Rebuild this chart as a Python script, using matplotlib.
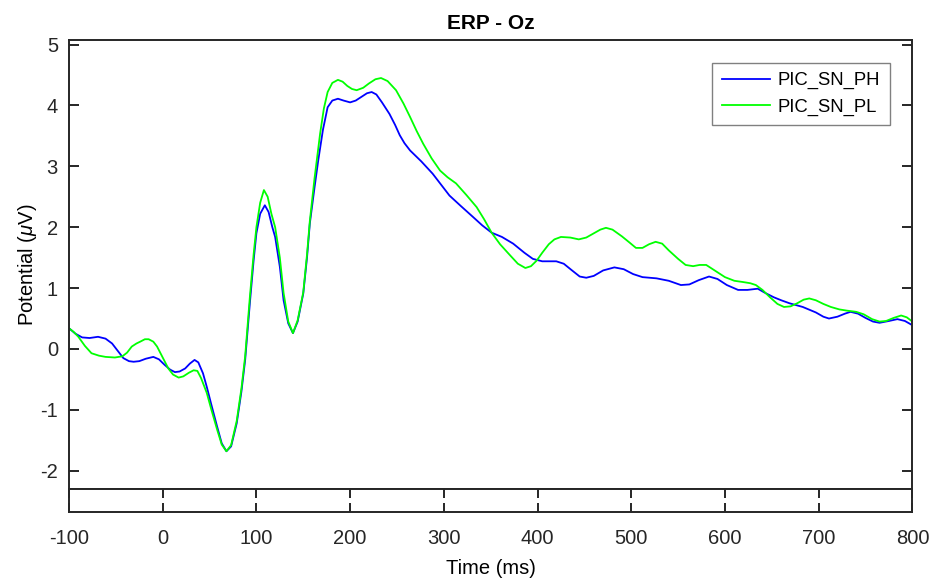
import matplotlib
matplotlib.use('Agg')
import matplotlib.pyplot as plt
import numpy as np

plt.rcParams['font.family'] = ['Liberation Sans', 'DejaVu Sans']
plt.rcParams['mathtext.fontset'] = 'custom'
plt.rcParams['mathtext.rm'] = 'Liberation Sans'
plt.rcParams['mathtext.it'] = 'Liberation Sans:italic'
plt.rcParams['axes.unicode_minus'] = False

# PIC_SN_PH (blue)
t_ph = [-100, -93, -86, -78, -69, -61, -54, -48, -42, -36, -31, -25, -18, -10, -4, 2, 8, 13, 18, 24,
        29, 34, 38, 43, 47, 52, 58, 63, 68, 73, 79, 84, 88, 93, 97, 100, 104, 109, 113, 117, 120, 125,
        129, 134, 139, 144, 150, 154, 157, 162, 166, 171, 176, 181, 187, 193, 200, 206, 212, 218, 223,
        228, 234, 242, 248, 253, 258, 264, 270, 276, 282, 288, 296, 306, 318, 331, 341, 351, 362, 374,
        386, 395, 405, 420, 428, 436, 445, 452, 460, 470, 482, 492, 502, 512, 527, 540, 553, 562, 572,
        583, 592, 602, 614, 624, 635, 643, 652, 660, 669, 683, 697, 705, 711, 720, 728, 734, 742, 750,
        758, 765, 775, 784, 792, 800]
v_ph = [0.34, 0.25, 0.19, 0.18, 0.20, 0.17, 0.09, -0.03, -0.15, -0.20, -0.21, -0.20, -0.16, -0.13,
        -0.17, -0.26, -0.34, -0.38, -0.37, -0.32, -0.24, -0.18, -0.22, -0.40, -0.62, -0.92, -1.27,
        -1.55, -1.68, -1.60, -1.22, -0.70, -0.18, 0.75, 1.45, 1.90, 2.22, 2.36, 2.25, 2.00, 1.84,
        1.35, 0.80, 0.42, 0.26, 0.45, 0.91, 1.50, 2.06, 2.65, 3.10, 3.60, 3.97, 4.08, 4.11, 4.08, 4.05,
        4.08, 4.14, 4.20, 4.22, 4.18, 4.05, 3.86, 3.68, 3.51, 3.38, 3.26, 3.17, 3.08, 2.98, 2.88, 2.72,
        2.52, 2.35, 2.17, 2.03, 1.91, 1.84, 1.73, 1.58, 1.48, 1.44, 1.44, 1.40, 1.30, 1.19, 1.17, 1.20,
        1.29, 1.34, 1.31, 1.23, 1.18, 1.16, 1.12, 1.05, 1.06, 1.13, 1.19, 1.15, 1.05, 0.97, 0.97, 0.99,
        0.92, 0.85, 0.80, 0.75, 0.69, 0.60, 0.53, 0.50, 0.53, 0.58, 0.61, 0.58, 0.51, 0.45, 0.43, 0.46,
        0.49, 0.46, 0.39]

# PIC_SN_PL (green)
t_pl = [-100, -95, -90, -83, -76, -68, -61, -51, -43, -38, -33, -28, -24, -19, -15, -10, -6, 0, 6,
        11, 17, 22, 28, 33, 37, 41, 47, 52, 58, 63, 68, 73, 79, 84, 88, 93, 97, 100, 104, 108, 112,
        116, 120, 125, 129, 134, 139, 144, 150, 154, 157, 162, 168, 172, 176, 181, 187, 192, 197, 202,
        207, 214, 220, 227, 233, 240, 249, 257, 264, 271, 278, 287, 296, 304, 313, 324, 335, 343, 351,
        360, 370, 379, 387, 393, 399, 405, 412, 418, 425, 435, 444, 452, 460, 467, 473, 480, 490, 498,
        505, 512, 519, 526, 533, 540, 550, 558, 566, 573, 580, 590, 600, 610, 619, 627, 633, 640, 648,
        656, 663, 670, 677, 684, 690, 697, 705, 713, 722, 730, 740, 748, 757, 765, 772, 780, 788, 794,
        800]
v_pl = [0.34, 0.28, 0.20, 0.05, -0.07, -0.11, -0.13, -0.14, -0.12, -0.06, 0.04, 0.09, 0.12, 0.16,
        0.16, 0.12, 0.04, -0.14, -0.32, -0.42, -0.47, -0.45, -0.39, -0.35, -0.36, -0.48, -0.72, -1.00,
        -1.32, -1.57, -1.68, -1.58, -1.18, -0.65, -0.12, 0.85, 1.55, 2.00, 2.40, 2.61, 2.50, 2.22,
        2.00, 1.50, 0.92, 0.45, 0.26, 0.47, 0.93, 1.55, 2.10, 2.80, 3.54, 3.95, 4.22, 4.37, 4.42, 4.39,
        4.32, 4.27, 4.25, 4.29, 4.36, 4.43, 4.45, 4.40, 4.25, 4.03, 3.81, 3.58, 3.37, 3.13, 2.93, 2.82,
        2.72, 2.53, 2.33, 2.13, 1.91, 1.72, 1.55, 1.40, 1.33, 1.36, 1.45, 1.58, 1.72, 1.80, 1.84, 1.83,
        1.80, 1.83, 1.90, 1.96, 1.99, 1.96, 1.85, 1.75, 1.66, 1.66, 1.72, 1.76, 1.73, 1.62, 1.48, 1.38,
        1.36, 1.38, 1.38, 1.28, 1.18, 1.12, 1.10, 1.08, 1.05, 0.97, 0.85, 0.74, 0.69, 0.70, 0.75, 0.81,
        0.83, 0.80, 0.74, 0.69, 0.65, 0.63, 0.61, 0.57, 0.49, 0.45, 0.46, 0.51, 0.55, 0.52, 0.45]

x_ticks = [-100, 0, 100, 200, 300, 400, 500, 600, 700, 800]
y_ticks = [-2, -1, 0, 1, 2, 3, 4, 5]

dark = '#262626'
fig = plt.figure(figsize=(9.31, 5.81), dpi=100)
ax = fig.add_axes([0.0741, 0.1578, 0.9059, 0.7734])
ax2 = fig.add_axes([0.0741, 0.1188, 0.9059, 0.0390])

ax.plot(t_ph, v_ph, color='#0000FF', lw=1.3, label='PIC_SN_PH')
ax.plot(t_pl, v_pl, color='#00FF00', lw=1.3, label='PIC_SN_PL')
ax.set_xlim(-100, 800)
ax.set_ylim(-2.305, 5.075)
ax.set_yticks(y_ticks)
ax.set_xticks([])
ax.tick_params(axis='y', direction='in', length=7, width=1.4, left=True, right=True,
               labelsize=14.5, colors=dark, pad=8)
for s in ax.spines.values():
    s.set_linewidth(1.4)
    s.set_color(dark)
ax.set_title('ERP - Oz', fontsize=15, fontweight='bold', pad=8)
ax.set_ylabel(r'Potential ($\mu$V)', fontsize=14.5, labelpad=1)
leg = ax.legend(loc='upper right', bbox_to_anchor=(0.973, 0.949), borderaxespad=0,
                fontsize=13.3, handlelength=2.6, handletextpad=0.45, frameon=True, fancybox=False,
                edgecolor='#808080', framealpha=1, borderpad=0.5, labelspacing=0.5)
leg.get_frame().set_linewidth(1.0)

ax2.set_xlim(-100, 800)
ax2.set_yticks([])
ax2.set_xticks(x_ticks)
ax2.tick_params(axis='x', direction='in', length=6.5, width=1.4, top=True, bottom=True,
                labelsize=14.5, colors=dark, pad=12)
for s in ax2.spines.values():
    s.set_linewidth(1.4)
    s.set_color(dark)
ax2.set_xlabel('Time (ms)', fontsize=14.5, labelpad=8)

fig.savefig('out.png', dpi=100)
